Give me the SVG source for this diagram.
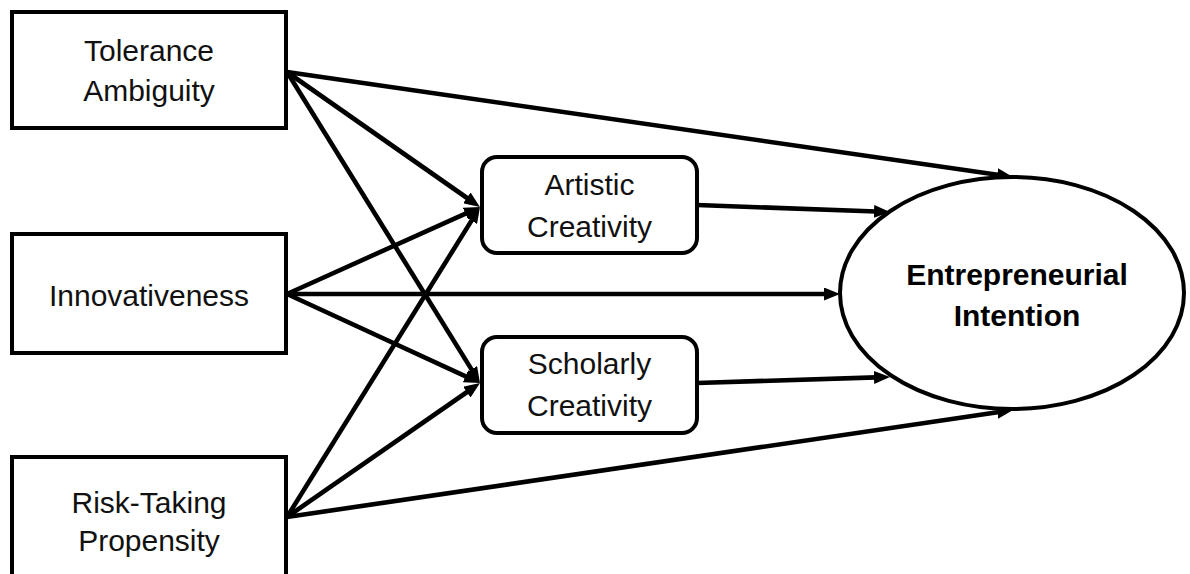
<svg xmlns="http://www.w3.org/2000/svg" width="1190" height="574" viewBox="0 0 1190 574">
<defs>
<style>
.box{fill:#fff;stroke:#000;stroke-width:4}
.lbl{font-family:"Liberation Sans",Arial,sans-serif;font-size:30px;fill:#111;text-anchor:middle}
.bold{font-weight:bold;fill:#000}
.con line{stroke:#000;stroke-width:4.6;marker-end:url(#ah)}
</style>
<marker id="ah" markerUnits="userSpaceOnUse" markerWidth="16" markerHeight="13" refX="2" refY="6.5" orient="auto" viewBox="0 0 16 13">
<path d="M0,0 L16,6.5 L0,13 z" fill="#000"/>
</marker>
</defs>
<rect width="1190" height="574" fill="#fff"/>
<g id="connectors" class="con">
<line x1="287" y1="72" x2="999.1" y2="175.0"/>
<line x1="287" y1="72" x2="468.5" y2="199.0"/>
<line x1="287" y1="72" x2="472.6" y2="371.1"/>
<line x1="287" y1="294" x2="467.2" y2="212.8"/>
<line x1="287" y1="294" x2="826" y2="294"/>
<line x1="287" y1="294" x2="467.3" y2="377.1"/>
<line x1="287" y1="517" x2="472.6" y2="218.9"/>
<line x1="287" y1="517" x2="468.5" y2="391.0"/>
<line x1="287" y1="517" x2="999.2" y2="412.0"/>
<line x1="697" y1="205" x2="876.0" y2="211.5"/>
<line x1="697" y1="383" x2="876.0" y2="377.4"/>
</g>
<g id="tolerance">
<rect class="box" x="12" y="12" width="274" height="116"/>
<text class="lbl" x="149" y="61">Tolerance</text>
<text class="lbl" x="149" y="101">Ambiguity</text>
</g>
<g id="innovativeness">
<rect class="box" x="12" y="234" width="274" height="119"/>
<text class="lbl" x="149" y="306">Innovativeness</text>
</g>
<g id="risk">
<rect class="box" x="12" y="457" width="274" height="130"/>
<text class="lbl" x="149" y="513">Risk-Taking</text>
<text class="lbl" x="149" y="551">Propensity</text>
</g>
<g id="artistic">
<rect class="box" x="482" y="157" width="215" height="96" rx="15"/>
<text class="lbl" x="589.5" y="195">Artistic</text>
<text class="lbl" x="589.5" y="237">Creativity</text>
</g>
<g id="scholarly">
<rect class="box" x="482" y="337" width="215" height="96" rx="15"/>
<text class="lbl" x="589.5" y="374">Scholarly</text>
<text class="lbl" x="589.5" y="416">Creativity</text>
</g>
<g id="intention">
<ellipse class="box" cx="1012" cy="293" rx="172" ry="116"/>
<text class="lbl bold" x="1017" y="285">Entrepreneurial</text>
<text class="lbl bold" x="1017" y="326">Intention</text>
</g>
</svg>
